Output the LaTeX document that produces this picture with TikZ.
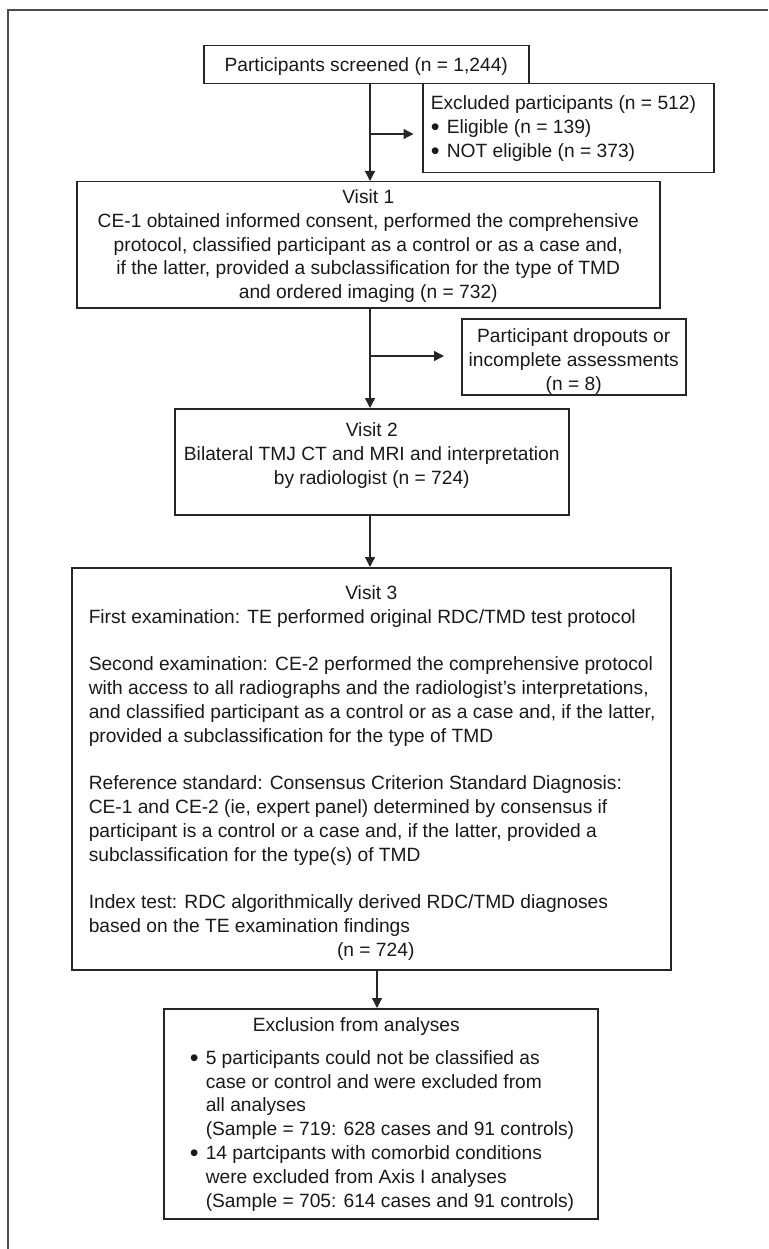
\documentclass[tikz,border=0pt]{standalone}
\usepackage{fontspec}
\setmainfont{Liberation Sans}
\usetikzlibrary{arrows.meta,calc}
\hfuzz=200pt
\hbadness=10000
\vbadness=10000
\newcommand{\bul}{\makebox[16pt][l]{\smash{\raisebox{-2pt}{\fontsize{25}{0}\selectfont\textbullet}}}}
\begin{document}
\begin{tikzpicture}[x=1pt,y=-1pt,
  box/.style={draw=black!85, line width=1.5pt, inner sep=0pt, anchor=north west,
    font=\fontsize{19.2}{23.8}\selectfont, text=black!90},
  arr/.style={line width=1.3pt, draw=black!85, -{Triangle[width=10pt,length=10pt]}},
  frame/.style={line width=1.2pt, draw=black!70},
]
\useasboundingbox (0,0) rectangle (768,1249);
\draw[frame] (768,10) -- (8,10) -- (8,1249);

\node[box, minimum width=325pt, minimum height=38pt] (scr) at (203,45)
  {\parbox[c][38pt][t]{325pt}{\vspace*{9pt}\centering\strut Participants screened (n = 1,244)}};

\node[box, minimum width=291pt, minimum height=89pt] (exc) at (422,83)
  {\parbox[c][89pt][t]{291pt}{\vspace*{9pt}\raggedright\leftskip=8pt
   \strut Excluded participants (n = 512)\\
   \strut\bul Eligible (n = 139)\\
   \strut\bul NOT eligible (n = 373)}};

\node[box, minimum width=583pt, minimum height=126pt] (v1) at (76,181)
  {\parbox[c][126pt][t]{583pt}{\vspace*{5pt}\centering
   \strut Visit 1\\
   \strut CE-1 obtained informed consent, performed the comprehensive\\
   \strut protocol, classified participant as a control or as a case and,\\
   \strut if the latter, provided a subclassification for the type of TMD\\
   \strut and ordered imaging (n = 732)}};

\node[box, minimum width=224pt, minimum height=76pt] (drop) at (461,318)
  {\parbox[c][76pt][t]{224pt}{\vspace*{7pt}\centering
   \strut Participant dropouts or\\
   \strut incomplete assessments\\
   \strut (n = 8)}};

\node[box, minimum width=394pt, minimum height=106pt] (v2) at (174,408)
  {\parbox[c][106pt][t]{394pt}{\vspace*{11pt}\centering
   \strut Visit 2\\
   \strut Bilateral TMJ CT and MRI and interpretation\\
   \strut by radiologist (n = 724)}};

\node[box, minimum width=599pt, minimum height=402pt] (v3) at (71,567)
  {\parbox[c][402pt][t]{599pt}{\vspace*{15pt}\raggedright\leftskip=17pt
   \strut\makebox[565pt][c]{Visit 3}\\
   \strut First examination: TE performed original RDC/TMD test protocol\\[23.8pt]
   \strut Second examination: CE-2 performed the comprehensive protocol\\
   \strut with access to all radiographs and the radiologist’s interpretations,\\
   \strut and classified participant as a control or as a case and, if the latter,\\
   \strut provided a subclassification for the type of TMD\\[23.8pt]
   \strut Reference standard: Consensus Criterion Standard Diagnosis:\\
   \strut CE-1 and CE-2 (ie, expert panel) determined by consensus if\\
   \strut participant is a control or a case and, if the latter, provided a\\
   \strut subclassification for the type(s) of TMD\\[23.8pt]
   \strut Index test: RDC algorithmically derived RDC/TMD diagnoses\\
   \strut based on the TE examination findings\\
   \strut\makebox[565pt][c]{\hspace{9pt}(n = 724)}}};

\node[box, minimum width=434pt, minimum height=210pt] (excl) at (163,1008)
  {\parbox[c][210pt][t]{434pt}{\vspace*{6pt}\raggedright\leftskip=26pt
   \strut\hspace*{63pt}Exclusion from analyses\\[9pt]
   \strut\bul 5 participants could not be classified as\\
   \strut\hspace*{16pt}case or control and were excluded from\\
   \strut\hspace*{16pt}all analyses\\
   \strut\hspace*{16pt}(Sample = 719: 628 cases and 91 controls)\\
   \strut\bul 14 partcipants with comorbid conditions\\
   \strut\hspace*{16pt}were excluded from Axis I analyses\\
   \strut\hspace*{16pt}(Sample = 705: 614 cases and 91 controls)}};

\coordinate (mx) at (370,0);
\coordinate (mx2) at (377,0);
\coordinate (b1) at (370,134);
\coordinate (b2) at (370,356);

\draw[arr] (scr.south -| mx) -- (v1.north -| mx);
\draw[arr, shorten >=8.5pt] (b1) -- (b1 -| exc.west);
\draw[arr] (v1.south -| mx) -- (v2.north -| mx);
\draw[arr, shorten >=17pt] (b2) -- (b2 -| drop.west);
\draw[arr] (v2.south -| mx) -- (v3.north -| mx);
\draw[arr] (v3.south -| mx2) -- (excl.north -| mx2);
\end{tikzpicture}
\end{document}
